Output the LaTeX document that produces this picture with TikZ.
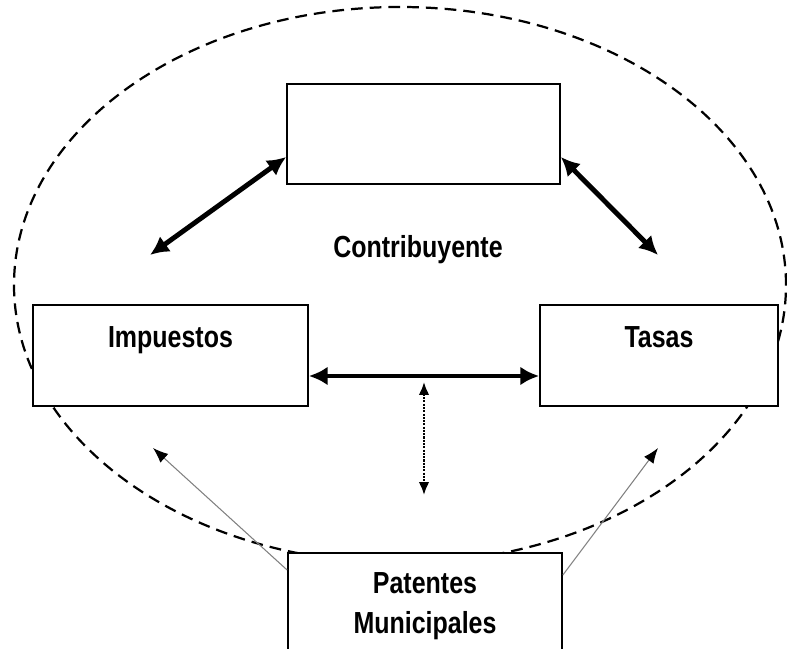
\documentclass[tikz,border=0pt]{standalone}
\usepackage{fontspec}
\newfontfamily\diagfont[FakeStretch=0.82]{Liberation Sans}
\usetikzlibrary{arrows.meta,calc}

\begin{document}
\begin{tikzpicture}
    [
    x=0.03cm, y=0.03cm,
    every node/.style={font=\diagfont\bfseries\fontsize{26}{34}\selectfont, align=center},
    box/.style={draw, line width=1.5pt, fill=white, inner sep=0pt},
    bigarrow/.style={line width=4.2pt, {Latex[length=16pt,width=16pt]}-{Latex[length=16pt,width=16pt]}},
    thinarrow/.style={draw=gray, line width=0.9pt, -{Latex[length=13pt,width=10pt,color=black]}},
    dotarrow/.style={line width=1.8pt, densely dotted, {Latex[length=11pt,width=9pt]}-{Latex[length=11pt,width=9pt]}}
    ]
    \useasboundingbox (0,0) rectangle (787,649);
    \clip (0,0) rectangle (787,649);

    \draw[line width=1.9pt, dash pattern=on 10pt off 6pt] (400,364) ellipse [x radius=386, y radius=278];

    \node[box, minimum width=8.19cm, minimum height=3cm] (top) at (423.5,515) {};
    \node[box, minimum width=8.25cm, text height=1.29cm, text depth=1.74cm] (impuestos) at (170.5,293.5) {Impuestos};
    \node[box, minimum width=7.14cm, text height=1.29cm, text depth=1.74cm] (tasas) at (659,293.5) {Tasas};
    \node[box, anchor=north, minimum width=8.22cm, minimum height=3.18cm] (patentes) at (425,97) {Patentes\\Municipales};
    \node (contrib) at (418,399) {Contribuyente};

    \coordinate (impup) at (150,394);
    \coordinate (tasup) at (658,394);
    \coordinate (linkup) at (424,267);
    \coordinate (linkdown) at (424,154);
    \coordinate (impdown) at (153,201);
    \coordinate (tasdown) at (658,201);

    \draw[bigarrow] (impup) -- ($(top.west)+(0,-23)$);
    \draw[bigarrow] ($(top.east)+(0,-23)$) -- (tasup);
    \draw[bigarrow] ($(impuestos.east)+(0,-20.5)$) -- ($(tasas.west)+(0,-20.5)$);
    \draw[dotarrow] (linkup) -- (linkdown);
    \draw[thinarrow] ($(patentes.north west)+(0,-18)$) -- (impdown);
    \draw[thinarrow] ($(patentes.north east)+(0,-23)$) -- (tasdown);
\end{tikzpicture}
\end{document}
